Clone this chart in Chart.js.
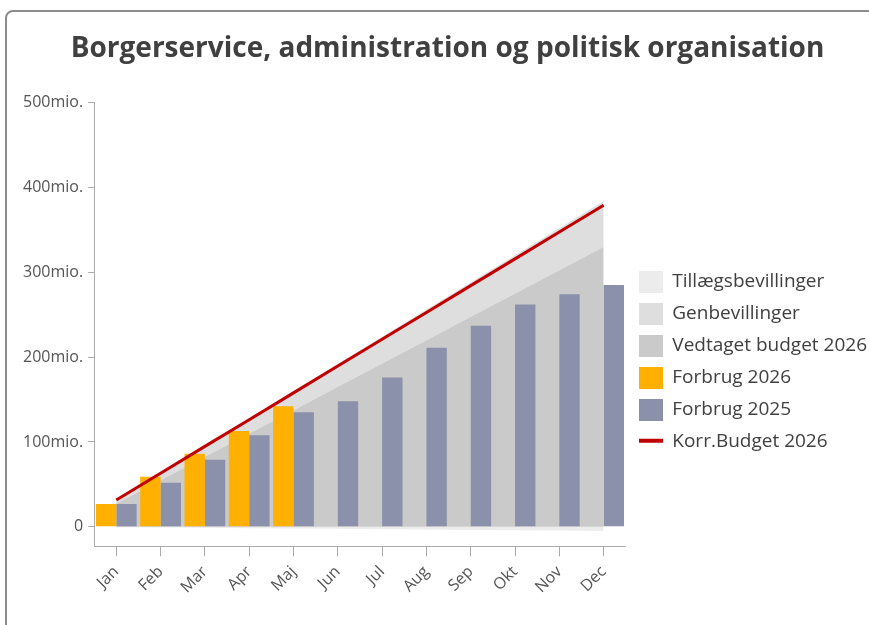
<!DOCTYPE html>
<html>
<head>
<meta charset="utf-8">
<script src="https://cdn.jsdelivr.net/npm/chart.js@4"></script>
<style>
  html, body { margin: 0; padding: 0; background: #fff; overflow: hidden; }
  #frame { position: absolute; left: 5px; top: 10px; width: 900px; height: 700px; border: 2px solid #8c8c8c; border-radius: 8px; }
  #wrap { position: absolute; left: 0; top: 0; width: 869px; height: 625px; }
</style>
</head>
<body>
<div id="frame"></div>
<div id="wrap"><canvas id="chart"></canvas></div>
<script>
// data (mio. kr., akkumuleret)
const months = ["Jan", "Feb", "Mar", "Apr", "Maj", "Jun", "Jul", "Aug", "Sep", "Okt", "Nov", "Dec"];
const vedtaget = [27.5, 55, 82.5, 110, 137.5, 165, 192.5, 220, 247.5, 275, 302.5, 330];
const genbev = [4.5, 9, 13.5, 18, 22.5, 27, 31.5, 36, 40.5, 45, 49.5, 54];
const tillaeg = [-0.4, -0.8, -1.2, -1.6, -2, -2.4, -2.8, -3.2, -3.6, -4, -4.4, -4.8];
const forbrug2026 = [27, 59, 86, 113, 142, null, null, null, null, null, null, null];
const forbrug2025 = [27, 52, 79, 108, 135, 148, 176, 211, 237, 262, 274, 285];
const korrBudget = [31.6, 63.2, 94.8, 126.3, 157.9, 189.5, 221.1, 252.7, 284.3, 315.8, 347.4, 379];
const yTicks = [0, 100, 200, 300, 400, 500];

const FONT = "'Open Sans', 'Noto Sans', sans-serif";
const colors = {
  korr: "#c00000",
  f25: "#8b91aa",
  f26: "#ffb000",
  vedtaget: "#cacaca",
  genbev: "#dedede",
  tillaeg: "#ececec"
};

// legend icons
function makeIcon(color, isLine) {
  const c = document.createElement("canvas");
  c.width = 24;
  c.height = 22;
  const g = c.getContext("2d");
  g.fillStyle = color;
  if (isLine) g.fillRect(0, 8, 24, 4);
  else g.fillRect(0, 0, 24, 22);
  return c;
}
const icons = [
  makeIcon(colors.korr, true),
  makeIcon(colors.f25),
  makeIcon(colors.f26),
  makeIcon(colors.vedtaget),
  makeIcon(colors.genbev),
  makeIcon(colors.tillaeg)
];

const ctx = document.getElementById("chart").getContext("2d");
new Chart(ctx, {
  data: {
    labels: months,
    datasets: [
      {
        type: "line",
        label: "Korr.Budget 2026",
        data: korrBudget,
        borderColor: colors.korr,
        borderWidth: 3,
        pointRadius: 0,
        fill: false,
        stack: "korr",
        order: 0
      },
      {
        type: "bar",
        label: "Forbrug 2025",
        data: forbrug2025,
        backgroundColor: colors.f25,
        barPercentage: 1,
        categoryPercentage: 0.92,
        stack: "f25",
        order: 2
      },
      {
        type: "bar",
        label: "Forbrug 2026",
        data: forbrug2026,
        backgroundColor: colors.f26,
        barPercentage: 1,
        categoryPercentage: 0.92,
        stack: "f26",
        order: 1
      },
      {
        type: "line",
        label: "Vedtaget budget 2026",
        data: vedtaget,
        backgroundColor: colors.vedtaget,
        borderWidth: 0,
        pointRadius: 0,
        fill: "origin",
        stack: "budget",
        order: 3
      },
      {
        type: "line",
        label: "Genbevillinger",
        data: genbev,
        backgroundColor: colors.genbev,
        borderWidth: 0,
        pointRadius: 0,
        fill: "-1",
        stack: "budget",
        order: 3
      },
      {
        type: "line",
        label: "Tillægsbevillinger",
        data: tillaeg,
        backgroundColor: colors.tillaeg,
        borderWidth: 0,
        pointRadius: 0,
        fill: "origin",
        stack: "budget",
        order: 3
      }
    ]
  },
  options: {
    responsive: true,
    maintainAspectRatio: false,
    animation: false,
    layout: { padding: { left: 18, right: -8, bottom: 22, top: 0 } },
    plugins: {
      title: {
        display: true,
        text: "Borgerservice, administration og politisk organisation",
        color: "#404040",
        font: { family: FONT, size: 28, weight: "bold" },
        padding: { top: 32, bottom: 37 }
      },
      legend: {
        position: "right",
        maxWidth: 300,
        title: { display: true, text: " ", padding: { top: 106, bottom: 0 } },
        labels: {
          usePointStyle: true,
          pointStyleWidth: 24,
          padding: 13,
          color: "#404040",
          font: { family: FONT, size: 19 },
          sort: (a, b) => b.datasetIndex - a.datasetIndex,
          generateLabels: (chart) =>
            Chart.defaults.plugins.legend.labels.generateLabels(chart).map((item) =>
              Object.assign(item, { pointStyle: icons[item.datasetIndex] })
            )
        }
      },
      tooltip: { enabled: false }
    },
    scales: {
      x: {
        grid: { offset: false, drawOnChartArea: false, drawTicks: true, tickLength: 10, color: "#aaaaaa" },
        border: { color: "#aaaaaa" },
        ticks: { maxRotation: 45, minRotation: 45, padding: 6, color: "#555555", font: { family: FONT, size: 16 } }
      },
      y: {
        stacked: true,
        min: -23,
        max: 500,
        afterBuildTicks: (axis) => {
          axis.ticks = yTicks.map((v) => ({ value: v }));
        },
        grid: { drawOnChartArea: false, drawTicks: true, tickLength: 6, color: "#aaaaaa" },
        border: { color: "#aaaaaa" },
        ticks: {
          color: "#555555",
          padding: 5,
          font: { family: FONT, size: 16 },
          callback: (v) => (v === 0 ? "0" : v + "mio.")
        }
      }
    }
  }
});
</script>
</body>
</html>
